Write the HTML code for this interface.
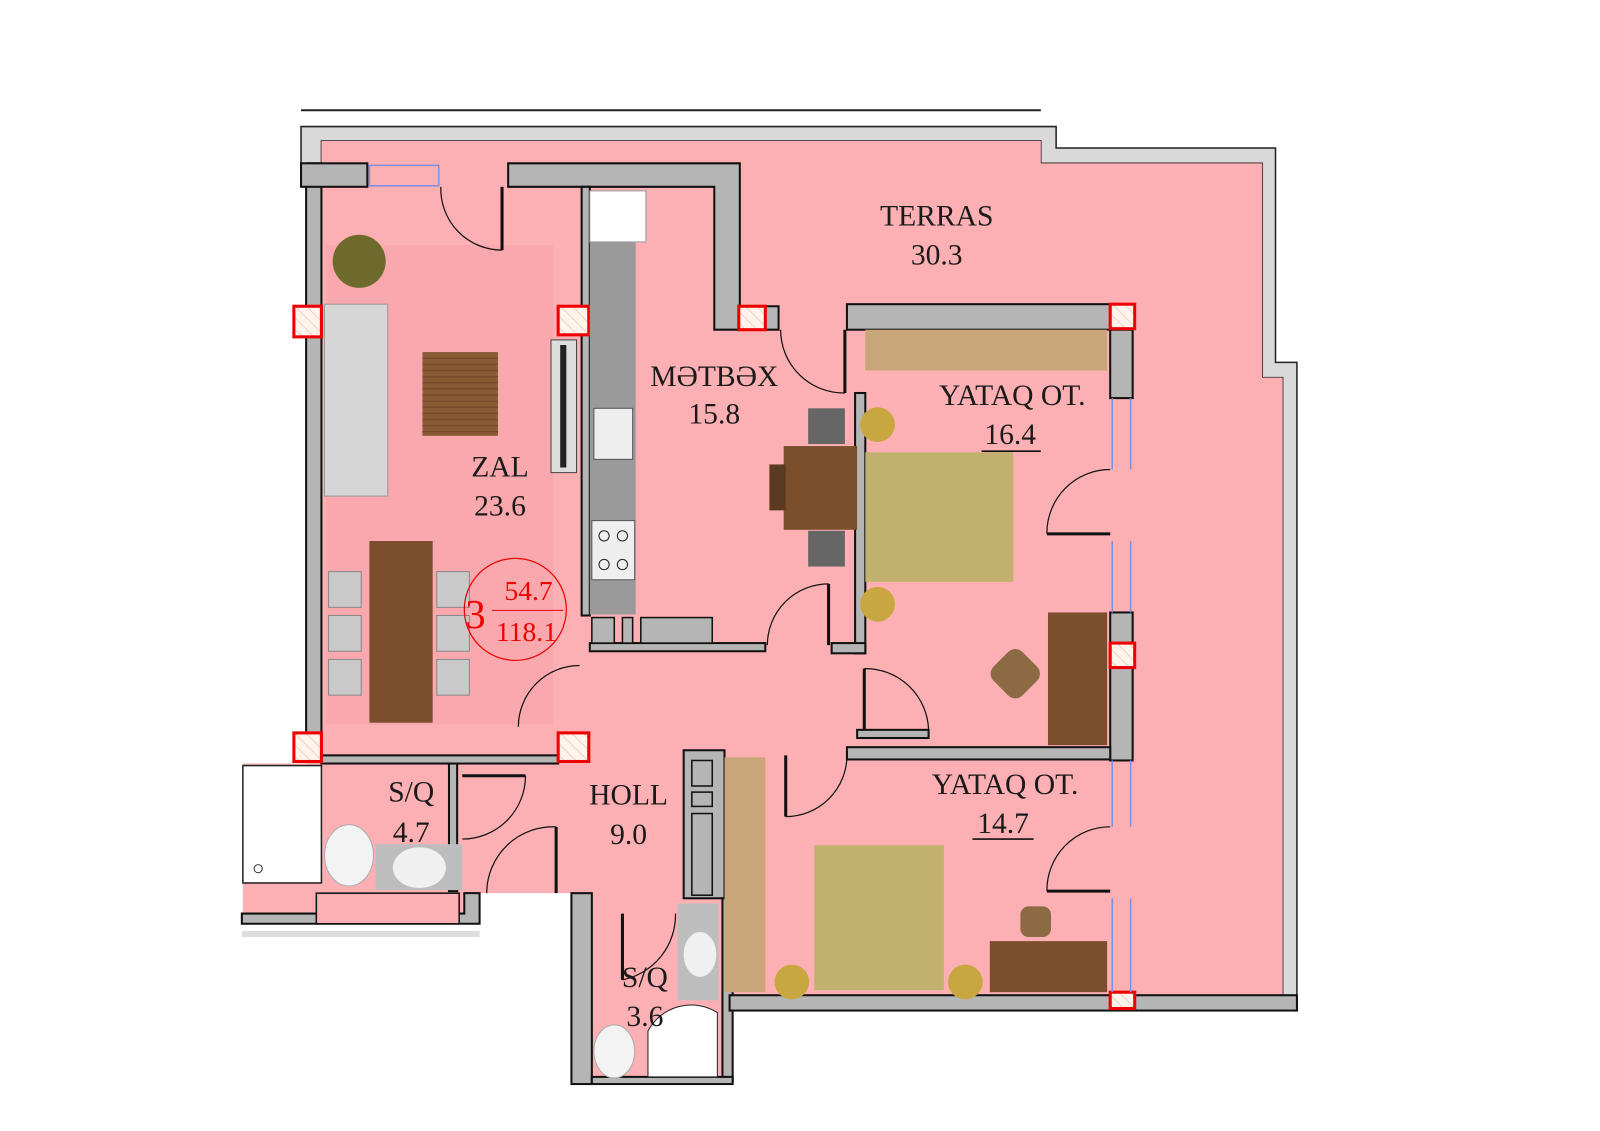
<!DOCTYPE html>
<html><head><meta charset="utf-8"><style>
html,body{margin:0;padding:0;background:#fff;width:1600px;height:1131px;overflow:hidden}
text{font-family:"Liberation Serif",serif;fill:#1a1a1a}
</style></head><body>
<svg width="1600" height="1131" viewBox="0 0 1568 1108" preserveAspectRatio="none" xmlns="http://www.w3.org/2000/svg">
<defs>
<pattern id="h" width="8" height="8" patternUnits="userSpaceOnUse" patternTransform="rotate(-45)"><rect width="8" height="8" fill="#fff4ec"/><line x1="0" y1="0" x2="0" y2="8" stroke="#e0b0a0" stroke-width="1"/></pattern>
<pattern id="wd" width="30" height="6" patternUnits="userSpaceOnUse"><rect width="30" height="6" fill="#8a5a34"/><line x1="0" y1="3" x2="30" y2="3" stroke="#6e4424" stroke-width="1"/></pattern>
</defs>
<line x1="295" y1="108" x2="1020" y2="108" stroke="#222" stroke-width="2"/>
<path d="M295 124 H1035 V145 H1250 V355 H1271 V990 H1257 V370 H1237 V160 H1020 V138 H315 V160 H295 Z" fill="#d9d9d9" stroke="#222" stroke-width="1.5"/>
<path d="M315 138 H1020 V160 H1237 V370 H1257 V985 H715 V1055 H580 V880 H560 V875 H470 V905 H238 V748 H300 V160 H315 Z" fill="#fdb0b4"/>
<rect x="238" y="750" width="77" height="115" fill="#fff" stroke="#222" stroke-width="1.5"/>
<circle cx="253" cy="851" r="4" fill="none" stroke="#333"/>
<rect x="320" y="240" width="222" height="470" fill="#f9a9ad"/>
<g fill="#b5b5b5" stroke="#111" stroke-width="2">
<rect x="300" y="160" width="15" height="585"/>
<rect x="295" y="160" width="65" height="23"/>
<path d="M498 160 H725 V300 H763 V323 H700 V183 H498 Z"/>
<rect x="570" y="183" width="8" height="420"/>
<rect x="830" y="298" width="280" height="25"/>
<rect x="1088" y="323" width="22" height="67"/>
<rect x="1088" y="600" width="22" height="145"/>
<rect x="838" y="385" width="10" height="255"/>
<rect x="578" y="630" width="172" height="8"/>
<rect x="815" y="630" width="33" height="10"/>
<rect x="840" y="715" width="70" height="8"/>
<rect x="830" y="732" width="258" height="12"/>
<rect x="315" y="740" width="232" height="8"/>
<rect x="670" y="735" width="40" height="145"/>
<rect x="708" y="880" width="10" height="180"/>
<rect x="560" y="875" width="20" height="187"/>
<rect x="580" y="1055" width="138" height="7"/>
<rect x="715" y="975" width="556" height="15"/>
<path d="M237 905 H470 V875 H455 V895 H237 Z"/>
<rect x="440" y="748" width="8" height="125"/>
</g>
<rect x="237" y="912" width="233" height="6" fill="#ddd"/>
<g fill="#b5b5b5" stroke="#111" stroke-width="1.5">
<rect x="678" y="745" width="20" height="25"/><rect x="678" y="776" width="20" height="14"/><rect x="678" y="797" width="20" height="80"/>
<rect x="580" y="605" width="22" height="25"/><rect x="610" y="605" width="10" height="25"/><rect x="628" y="605" width="70" height="25"/>
<rect x="310" y="875" width="140" height="30" fill="#fdb0b4"/>
</g>
<g fill="url(#h)" stroke="#e00" stroke-width="3">
<rect x="547" y="300" width="30" height="28"/><rect x="288" y="300" width="27" height="30"/><rect x="724" y="300" width="26" height="23"/>
<rect x="1088" y="298" width="24" height="24"/><rect x="1088" y="630" width="24" height="24"/><rect x="288" y="718" width="27" height="28"/>
<rect x="547" y="718" width="30" height="28"/><rect x="1088" y="972" width="24" height="16"/>
</g>
<g stroke="#7f8fe0" stroke-width="1.5" fill="none">
<rect x="362" y="162" width="68" height="20"/>
<line x1="1108" y1="390" x2="1108" y2="460"/><line x1="1090" y1="390" x2="1090" y2="460"/>
<line x1="1108" y1="530" x2="1108" y2="600"/><line x1="1090" y1="530" x2="1090" y2="600"/>
<line x1="1108" y1="745" x2="1108" y2="810"/><line x1="1090" y1="745" x2="1090" y2="810"/>
<line x1="1108" y1="880" x2="1108" y2="972"/><line x1="1090" y1="880" x2="1090" y2="972"/>
</g>
<g stroke="#111" stroke-width="1.2" fill="none">
<path d="M432 183 A60 60 0 0 0 492 245"/><line x1="492" y1="183" x2="492" y2="245" stroke-width="3"/>
<path d="M765 323 A62 62 0 0 0 828 385"/><line x1="828" y1="323" x2="828" y2="385" stroke-width="3"/>
<path d="M1088 460 A62 62 0 0 0 1026 523"/><line x1="1026" y1="523" x2="1088" y2="523" stroke-width="3"/>
<path d="M1088 810 A62 62 0 0 0 1026 873"/><line x1="1026" y1="873" x2="1088" y2="873" stroke-width="3"/>
<path d="M752 632 A60 60 0 0 1 812 572"/><line x1="812" y1="572" x2="812" y2="632" stroke-width="3"/>
<path d="M847 655 A62 62 0 0 1 910 715"/><line x1="847" y1="655" x2="847" y2="715" stroke-width="3"/>
<path d="M508 712 A60 60 0 0 1 568 652"/>
<path d="M830 740 A60 60 0 0 1 770 800"/><line x1="770" y1="740" x2="770" y2="800" stroke-width="3"/>
<path d="M515 760 A62 62 0 0 1 453 822"/><line x1="453" y1="760" x2="515" y2="760" stroke-width="3"/>
<path d="M477 875 A65 65 0 0 1 545 810"/><line x1="545" y1="810" x2="545" y2="875" stroke-width="3"/>
<path d="M662 895 A65 65 0 0 1 610 960"/><line x1="610" y1="895" x2="610" y2="960" stroke-width="3"/>
</g>
<rect x="578" y="237" width="45" height="365" fill="#9a9a9a"/>
<rect x="578" y="187" width="55" height="50" fill="#fff" stroke="#999"/>
<rect x="582" y="400" width="38" height="50" fill="#eee" stroke="#555"/>
<rect x="580" y="510" width="42" height="58" fill="#eee" stroke="#555"/>
<g fill="none" stroke="#222"><circle cx="592" cy="525" r="5"/><circle cx="610" cy="525" r="5"/><circle cx="592" cy="553" r="5"/><circle cx="610" cy="553" r="5"/></g>
<rect x="540" y="333" width="25" height="130" fill="#ddd" stroke="#444"/><rect x="549" y="338" width="6" height="120" fill="#222"/>
<circle cx="352" cy="256" r="26" fill="#6d6a2c"/>
<rect x="318" y="298" width="62" height="188" fill="#d6d6d6" stroke="#999"/>
<rect x="414" y="345" width="74" height="82" fill="url(#wd)"/>
<rect x="362" y="530" width="62" height="178" fill="#7b4f2c"/>
<g fill="#c9c9c9" stroke="#888"><rect x="322" y="560" width="32" height="35"/><rect x="322" y="603" width="32" height="35"/><rect x="322" y="646" width="32" height="35"/><rect x="428" y="560" width="32" height="35"/><rect x="428" y="603" width="32" height="35"/><rect x="428" y="646" width="32" height="35"/></g>
<rect x="768" y="437" width="72" height="82" fill="#7b4f2c"/><rect x="754" y="455" width="16" height="45" fill="#5a3a20"/>
<rect x="792" y="400" width="36" height="35" fill="#666"/><rect x="792" y="520" width="36" height="35" fill="#666"/>
<rect x="848" y="323" width="237" height="40" fill="#c9a57a"/>
<rect x="848" y="443" width="145" height="127" fill="#c2b16e"/>
<circle cx="860" cy="416" r="17" fill="#c8a640"/><circle cx="860" cy="592" r="17" fill="#c8a640"/>
<rect x="1027" y="600" width="58" height="130" fill="#7b4f2c"/>
<rect x="975" y="640" width="40" height="40" rx="10" fill="#8c6a44" transform="rotate(45 995 660)"/>
<rect x="710" y="742" width="40" height="230" fill="#c9a57a"/>
<rect x="798" y="828" width="127" height="142" fill="#c2b16e"/>
<circle cx="776" cy="962" r="17" fill="#c8a640"/><circle cx="946" cy="962" r="17" fill="#c8a640"/>
<rect x="970" y="922" width="115" height="50" fill="#7b4f2c"/>
<rect x="1000" y="888" width="30" height="30" rx="8" fill="#8c6a44"/>
<rect x="368" y="827" width="85" height="45" fill="#bdbdbd"/><ellipse cx="411" cy="850" rx="26" ry="20" fill="#f0f0f0"/>
<ellipse cx="342" cy="838" rx="24" ry="30" fill="#f3f3f3" stroke="#aaa"/>
<rect x="664" y="885" width="40" height="95" fill="#bdbdbd"/><ellipse cx="686" cy="935" rx="16" ry="22" fill="#f0f0f0"/>
<path d="M635 1055 V1010 A48 48 0 0 1 703 992 V1055 Z" fill="#fff" stroke="#222"/>
<ellipse cx="602" cy="1030" rx="20" ry="26" fill="#f3f3f3" stroke="#aaa"/>
<g font-size="29" text-anchor="middle">
<text x="918" y="221">TERRAS</text><text x="918" y="259">30.3</text>
<text x="700" y="378">MƏTBƏX</text><text x="700" y="415">15.8</text>
<text x="992" y="397">YATAQ OT.</text><text x="990" y="435">16.4</text>
<text x="490" y="467">ZAL</text><text x="490" y="505">23.6</text>
<text x="403" y="785">S/Q</text><text x="403" y="825">4.7</text>
<text x="616" y="788">HOLL</text><text x="616" y="827">9.0</text>
<text x="985" y="778">YATAQ OT.</text><text x="983" y="816">14.7</text>
<text x="632" y="967">S/Q</text><text x="632" y="1005">3.6</text>
</g>
<line x1="962" y1="442" x2="1020" y2="442" stroke="#111" stroke-width="1.5"/>
<line x1="953" y1="822" x2="1013" y2="822" stroke="#111" stroke-width="1.5"/>
<circle cx="505" cy="597" r="50" fill="none" stroke="#e00" stroke-width="1.2"/>
<text x="466" y="615" font-size="40" text-anchor="middle" style="fill:#e00">3</text>
<text x="518" y="588" font-size="27" text-anchor="middle" style="fill:#e00">54.7</text>
<line x1="482" y1="598" x2="552" y2="598" stroke="#e00" stroke-width="1"/>
<text x="516" y="628" font-size="27" text-anchor="middle" style="fill:#e00">118.1</text>
</svg>
</body></html>
